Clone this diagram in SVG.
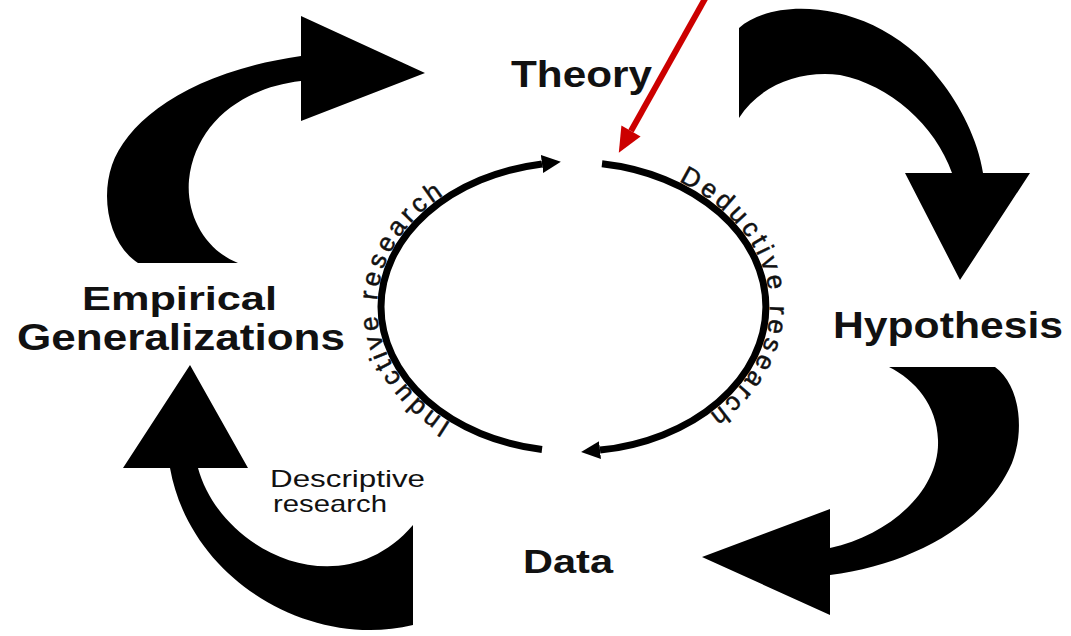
<svg xmlns="http://www.w3.org/2000/svg" width="1071" height="636" viewBox="0 0 1071 636">
  <style>
    .label { font-family: "Liberation Sans", Arial, sans-serif; font-weight: bold; fill: #111; }
    .note { font-family: "Liberation Sans", Arial, sans-serif; fill: #111; }
    .arc-text { font-family: "Liberation Sans", Arial, sans-serif; font-size: 26px; fill: #111; letter-spacing: 3.5px; stroke: #111; stroke-width: 0.5; }
    .block { fill: #000; }
    .cycle { fill: none; stroke: #000; stroke-width: 7; }
  </style>
  <defs>
    <marker id="cycle-head" markerUnits="userSpaceOnUse" markerWidth="20" markerHeight="18" refX="0" refY="9" orient="auto">
      <path d="M0,0 L19,9 L0,18 Z" fill="#000"/>
    </marker>
    <!-- inner cycle: left half runs bottom to top, right half top to bottom -->
    <path id="arc-left" d="M542,449.5 A192.5,144.7 0 0 1 542,164"/>
    <path id="arc-right" d="M602,163.7 A192.5,144.7 0 0 1 600,450.1"/>
  </defs>

  <rect width="1071" height="636" fill="#fff"/>

  <g id="connectors">
    <!-- Empirical Generalizations to Theory -->
    <path class="block" d="M138,263 C110,245 100,200 112,165 C128,120 190,72 301,56 L301,16 L425,73 L301,121 L301,81 C240,88 195,125 189,180 C186,215 205,250 238,263 Z"/>
    <!-- Theory to Hypothesis -->
    <path class="block" d="M739,28 C775,-5 880,0 940,80 C960,105 978,140 983,173 L1030,173 L960,280 L905,173 L952,173 C935,125 890,85 840,75 C800,70 760,85 739,118 Z"/>
    <!-- Hypothesis to Data -->
    <path class="block" d="M995,367 C1020,385 1025,430 1012,463 C985,525 910,565 830,575 L830,615 L702,557 L830,509 L830,548 C890,535 940,490 938,440 C937,405 915,380 889,367 Z"/>
    <!-- Data to Empirical Generalizations -->
    <path class="block" d="M413,525 L413,625 C310,650 190,580 170,468 L123,468 L190,365 L248,468 L198,468 C220,550 340,610 413,525 Z"/>

    <!-- research cycle -->
    <use href="#arc-left" class="cycle" marker-end="url(#cycle-head)"/>
    <use href="#arc-right" class="cycle" marker-end="url(#cycle-head)"/>
    <text class="arc-text"><textPath href="#arc-left" startOffset="94"><tspan dy="-4">Inductive research</tspan></textPath></text>
    <text class="arc-text"><textPath href="#arc-right" startOffset="78"><tspan dy="-4">Deductive research</tspan></textPath></text>

    <!-- red pointer -->
    <line x1="706" y1="-3" x2="631" y2="131" stroke="#cc0000" stroke-width="6"/>
    <polygon points="618.8,152.8 621.4,125.6 640.6,136.4" fill="#cc0000"/>
  </g>

  <g id="theory">
    <text class="label" x="511" y="87" font-size="36" textLength="141" lengthAdjust="spacingAndGlyphs">Theory</text>
  </g>
  <g id="hypothesis">
    <text class="label" x="833" y="338" font-size="36" textLength="230" lengthAdjust="spacingAndGlyphs">Hypothesis</text>
  </g>
  <g id="data">
    <text class="label" x="523" y="573" font-size="33" textLength="90" lengthAdjust="spacingAndGlyphs">Data</text>
  </g>
  <g id="empirical-generalizations">
    <text class="label" x="82" y="310" font-size="34" textLength="195" lengthAdjust="spacingAndGlyphs">Empirical</text>
    <text class="label" x="17" y="350" font-size="36" textLength="328" lengthAdjust="spacingAndGlyphs">Generalizations</text>
  </g>
  <g id="descriptive-research">
    <text class="note" x="270" y="487" font-size="24" textLength="155" lengthAdjust="spacingAndGlyphs">Descriptive</text>
    <text class="note" x="273" y="512" font-size="24" textLength="114" lengthAdjust="spacingAndGlyphs">research</text>
  </g>
</svg>
